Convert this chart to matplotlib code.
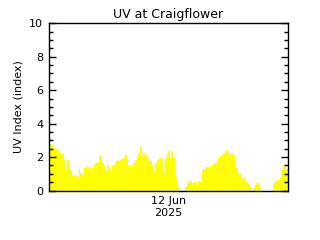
import numpy as np
import pandas as pd
import matplotlib
matplotlib.use("Agg")
import matplotlib.pyplot as plt
from matplotlib.ticker import MultipleLocator, FixedLocator

# UV index, 10-minute samples, 11 Jun 12:00 -> 12 Jun 12:00
uv = [2.74, 2.80, 2.68, 2.54, 2.48, 2.48, 2.24, 2.20, 2.20, 1.88,
      1.24, 1.80, 1.54, 1.24, 0.94, 0.88, 0.94, 0.74, 1.28, 1.04,
      0.94, 1.34, 1.38, 1.38, 1.28, 1.32, 1.40, 1.54, 1.64, 1.68,
      2.08, 2.04, 1.74, 1.44, 1.18, 1.64, 1.44, 1.20, 1.44, 1.54,
      1.74, 1.80, 1.78, 1.80, 1.88, 1.94, 2.14, 1.74, 1.48, 1.44,
      1.48, 1.64, 1.84, 2.08, 2.24, 2.60, 2.14, 2.24, 2.14, 2.20,
      1.88, 1.74, 1.44, 1.08, 1.64, 1.80, 1.90, 1.94, 1.88, 1.04,
      1.94, 2.24, 2.34, 2.00, 2.28, 1.94, 0.84, 0.54, 0.24, 0.00,
      0.00, 0.00, 0.24, 0.44, 0.54, 0.56, 0.48, 0.48, 0.54, 0.34,
      0.52, 0.54, 1.14, 1.28, 1.40, 1.40, 1.40, 1.48, 1.48, 1.58,
      1.64, 1.80, 1.94, 2.08, 2.14, 2.24, 2.28, 2.44, 2.24, 2.14,
      2.24, 2.04, 1.74, 1.34, 1.04, 1.00, 0.68, 0.80, 0.60, 0.54,
      0.44, 0.14, 0.00, 0.14, 0.34, 0.48, 0.44, 0.24, 0.00, 0.00,
      0.00, 0.00, 0.00, 0.00, 0.00, 0.44, 0.64, 0.60, 0.64, 0.80,
      1.20, 1.48, 1.44, 1.28]

start = pd.Timestamp("2025-06-11 12:00")
end = pd.Timestamp("2025-06-12 12:00")
times = pd.date_range(start, periods=len(uv), freq="10min")
x_ticks = [pd.Timestamp("2025-06-12 00:00")]
x_labels = ["12 Jun\n2025"]

fig = plt.figure(figsize=(3.2, 2.4), dpi=100)
ax = fig.add_axes([0.152, 0.206, 0.748, 0.697])

t_edges = list(times) + [end]
vals = uv + [uv[-1]]
ax.fill_between(t_edges, vals, 0, step="post", color="#ffff00", linewidth=0)

ax.set_xlim(start, end)
ax.set_ylim(0, 10)
ax.xaxis.set_major_locator(FixedLocator(matplotlib.dates.date2num(x_ticks)))
ax.set_xticklabels(x_labels, fontsize=8)
ax.tick_params(axis="x", length=0, pad=4)

ax.yaxis.set_major_locator(MultipleLocator(2))
ax.yaxis.set_minor_locator(MultipleLocator(0.5))
ax.tick_params(axis="y", which="major", direction="in", length=5, width=1,
               right=True, labelsize=8, pad=4)
ax.tick_params(axis="y", which="minor", direction="in", length=3, width=1,
               right=True)

for s in ax.spines.values():
    s.set_linewidth(1.0)

ax.set_title("UV at Craigflower", fontsize=9, pad=4)
ax.set_ylabel("UV Index (index)", fontsize=8, labelpad=4)

fig.savefig("out.png", dpi=100)
